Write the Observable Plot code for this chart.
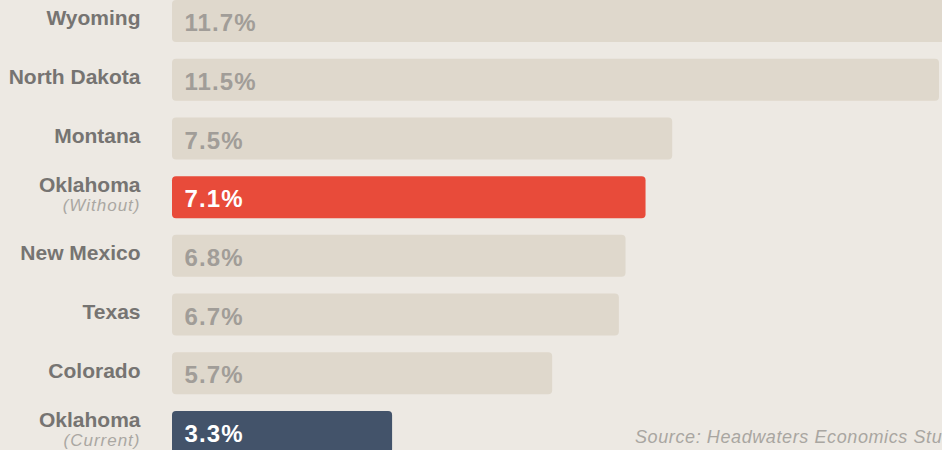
<!DOCTYPE html>
<html>
<head>
<meta charset="utf-8">
<script src="https://cdn.jsdelivr.net/npm/d3@7"></script>
<script src="https://cdn.jsdelivr.net/npm/@observablehq/plot@0.6"></script>
<style>
  html, body { margin: 0; padding: 0; background: #ede9e3; overflow: hidden; width: 942px; height: 450px; }
  #chart { position: relative; width: 942px; height: 450px; }
  #source { position: absolute; left: 635px; top: 427px; font: italic 18px "Liberation Sans", Arial, sans-serif; letter-spacing: 0.6px; color: #a9a6a1; white-space: nowrap; }
</style>
</head>
<body>
<div id="chart"></div>
<script>
const states = ["Wyoming", "North Dakota", "Montana", "Oklahoma", "New Mexico", "Texas", "Colorado", "Oklahoma"];
const subLabels = ["", "", "", "(Without)", "", "", "", "(Current)"];
const values = [11.7, 11.5, 7.5, 7.1, 6.8, 6.7, 5.7, 3.3];
const kinds = ["other", "other", "other", "without", "other", "other", "other", "current"];
const sourceText = "Source: Headwaters Economics Study";

const data = states.map((s, i) => ({
  id: s + "|" + subLabels[i],
  state: s,
  sub: subLabels[i],
  value: values[i],
  kind: kinds[i]
}));

const barColor = {other: "#dfd8cc", without: "#e84b3a", current: "#43536a"};
const valColor = {other: "#a19d98", without: "#ffffff", current: "#ffffff"};

const font = "'Liberation Sans', Arial, sans-serif";
const single = data.filter(d => !d.sub);
const double = data.filter(d => d.sub);

const chart = Plot.plot({
  width: 942,
  height: 450,
  marginLeft: 172,
  marginRight: 3,
  marginTop: 0,
  marginBottom: 0,
  style: {background: "#ede9e3", fontFamily: font, overflow: "visible"},
  x: {domain: [0, 11.5], axis: null},
  y: {domain: data.map(d => d.id), range: [0, 453], paddingInner: 0.2846, paddingOuter: 0, round: false, axis: null},
  color: {type: "identity"},
  marks: [
    Plot.barX(data, {x: "value", y: "id", fill: d => barColor[d.kind], rx: 4}),
    Plot.text(data, {
      x: 0, y: "id", text: d => d.value.toFixed(1) + "%",
      dx: 12, dy: 2, textAnchor: "start",
      fill: d => valColor[d.kind],
      fontSize: 24, fontWeight: "bold"
    }),
    Plot.text(single, {
      x: 0, y: "id", text: "state",
      dx: -32, dy: -3, textAnchor: "end",
      fill: "#767472", fontSize: 21, fontWeight: "bold"
    }),
    Plot.text(double, {
      x: 0, y: "id", text: "state",
      dx: -32, dy: -12, textAnchor: "end",
      fill: "#767472", fontSize: 21, fontWeight: "bold"
    }),
    Plot.text(double, {
      x: 0, y: "id", text: "sub",
      dx: -32, dy: 8, textAnchor: "end",
      fill: "#aaa7a2", fontSize: 17, fontStyle: "italic"
    })
  ]
});

d3.select(chart).selectAll("text").each(function() {
  const t = this.textContent;
  if (/%$/.test(t)) this.style.letterSpacing = "1.1px";
  else if (/^\(/.test(t)) this.style.letterSpacing = "1px";
});

document.getElementById("chart").appendChild(chart);
const src = document.createElement("div");
src.id = "source";
src.textContent = sourceText;
document.getElementById("chart").appendChild(src);
</script>
</body>
</html>
